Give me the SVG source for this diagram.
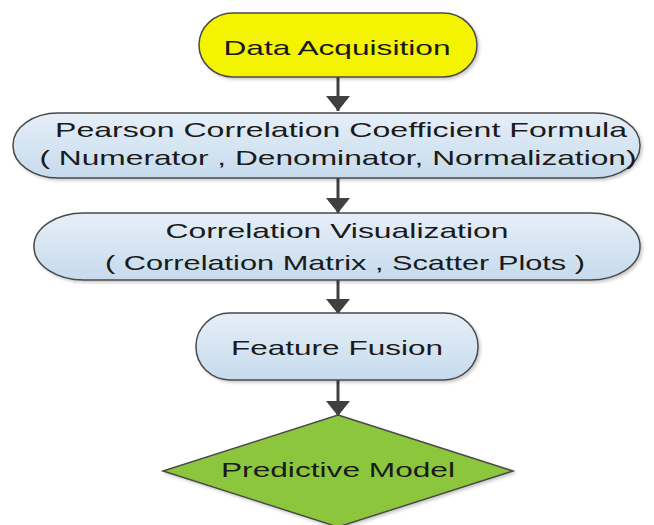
<svg xmlns="http://www.w3.org/2000/svg" width="654" height="525" viewBox="0 0 654 525">
<style>
.t{font-family:"Liberation Sans",Arial,sans-serif;font-size:21px;fill:#1a1a1a;text-anchor:middle}
.n{stroke:#4a4a4a;stroke-width:1.5}
.c{stroke:#404040;stroke-width:3;fill:none}
</style>
<defs>
<linearGradient id="blue" x1="0" y1="0" x2="0" y2="1">
<stop offset="0" stop-color="#e6eff8"/>
<stop offset="1" stop-color="#c6dbed"/>
</linearGradient>
<filter id="sh" x="-10%" y="-10%" width="120%" height="130%">
<feDropShadow dx="2" dy="2" stdDeviation="1.5" flood-color="#000" flood-opacity="0.2"/>
</filter>
<marker id="ah" markerWidth="5" markerHeight="8" refX="5" refY="4" orient="auto" markerUnits="strokeWidth">
<path d="M0,0 L5,4 L0,8 Z" fill="#404040"/>
</marker>
</defs>
<rect width="654" height="525" fill="#fff"/>
<g id="connectors">
<line class="c" x1="338" y1="77" x2="338" y2="111" marker-end="url(#ah)"/>
<line class="c" x1="338" y1="178" x2="338" y2="213" marker-end="url(#ah)"/>
<line class="c" x1="338" y1="280" x2="338" y2="314" marker-end="url(#ah)"/>
<line class="c" x1="338" y1="380" x2="338" y2="416" marker-end="url(#ah)"/>
</g>
<g id="data-acquisition">
<rect class="n" x="199" y="13" width="278" height="64" rx="34" ry="32" fill="#f4f400" filter="url(#sh)"/>
<text class="t" x="337" y="55" font-size="22" textLength="227" lengthAdjust="spacingAndGlyphs">Data Acquisition</text>
</g>
<g id="pearson">
<rect class="n" x="13" y="113" width="627" height="65" rx="45" ry="32" fill="url(#blue)" filter="url(#sh)"/>
<text class="t" x="341" y="137" textLength="572" lengthAdjust="spacingAndGlyphs">Pearson Correlation Coefficient Formula</text>
<text class="t" x="338" y="165" textLength="597" lengthAdjust="spacingAndGlyphs">( Numerator , Denominator, Normalization)</text>
</g>
<g id="visualization">
<rect class="n" x="34" y="213" width="606" height="67" rx="50" ry="33" fill="url(#blue)" filter="url(#sh)"/>
<text class="t" x="337" y="238" textLength="343" lengthAdjust="spacingAndGlyphs">Correlation Visualization</text>
<text class="t" x="345" y="270" textLength="480" lengthAdjust="spacingAndGlyphs">( Correlation Matrix , Scatter Plots )</text>
</g>
<g id="feature-fusion">
<rect class="n" x="196" y="313" width="282" height="67" rx="34" ry="33" fill="url(#blue)" filter="url(#sh)"/>
<text class="t" x="337" y="355" textLength="212" lengthAdjust="spacingAndGlyphs">Feature Fusion</text>
</g>
<g id="predictive-model">
<polygon class="n" points="338,415 513,471 338,527 163,471" fill="#8cc63e" filter="url(#sh)"/>
<text class="t" x="338" y="477" textLength="234" lengthAdjust="spacingAndGlyphs">Predictive Model</text>
</g>
</svg>
